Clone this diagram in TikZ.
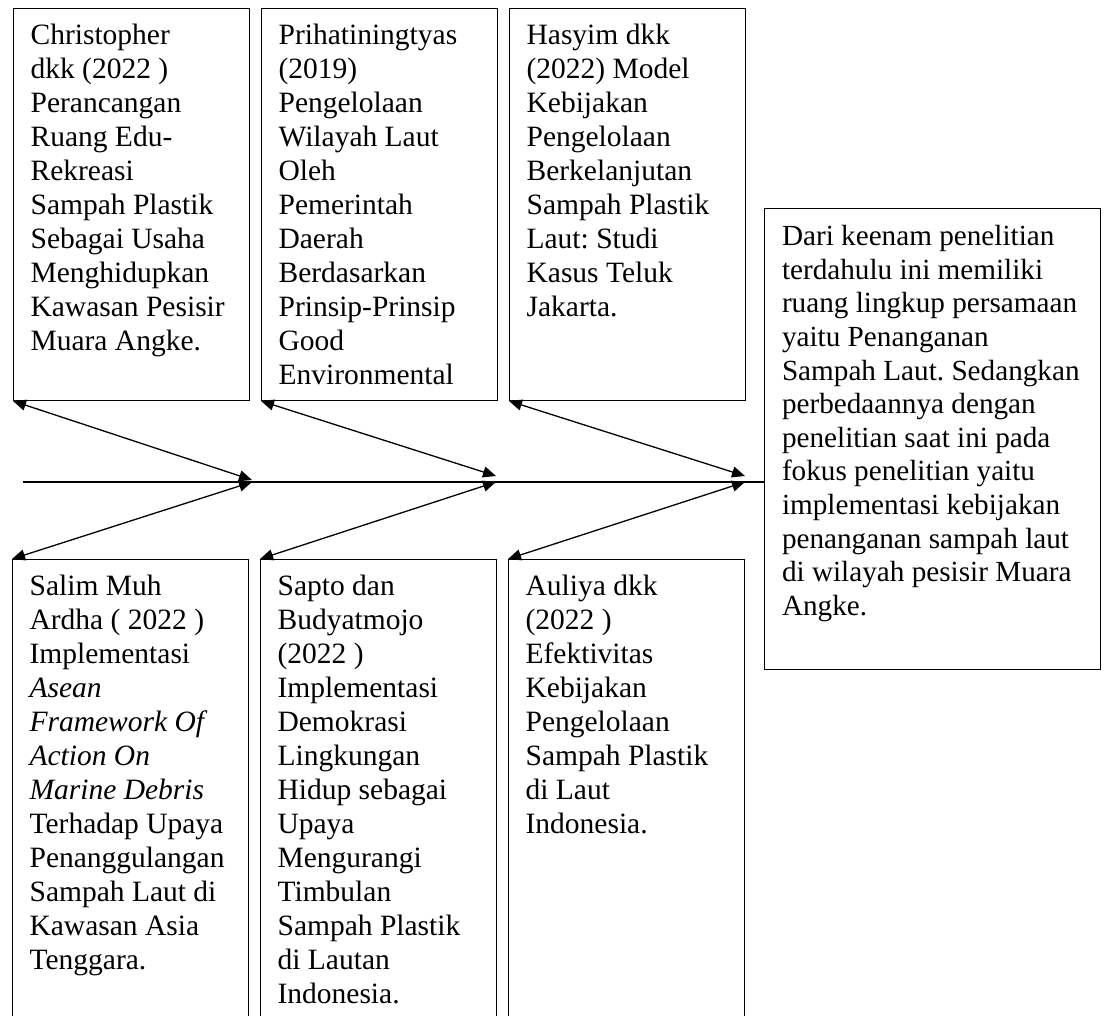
\documentclass[tikz,border=0pt]{standalone}
\usepackage{fontspec}
\setmainfont{Liberation Serif}
\usetikzlibrary{arrows.meta,positioning}
\tikzset{
  % Define standard arrow tip
  >={Triangle[length=13pt,width=11pt]},
  % Define style for the reference boxes
  refbox/.style={
    rectangle,
    draw=black, line width=1pt,
    inner xsep=17.6pt, inner ysep=12.2pt,
    outer sep=0pt,
    font=\fontsize{29.5}{34}\selectfont},
  % Define style for the summary box
  sumbox/.style={
    refbox,
    inner xsep=18pt, inner ysep=13.2pt,
    font=\fontsize{29.2}{33.6}\selectfont},
  % Define arrow style
  link/.style={
    <->,
    line width=1.3pt},
  % line
  spine/.style = {draw, line width=1.3pt},
}
\def\reftext#1#2#3{ % #1 Height, #2 Width, #3 Text
\parbox[t][#1][t]{#2}{\raggedright\frenchspacing\strut #3}}

\begin{document}
\begin{tikzpicture}[x=1pt, y=-1pt]
  \useasboundingbox (0,0) rectangle (1109,1016);
  % top row
  \node[refbox, anchor=north west] (christopher) at (13,9)
    {\reftext{367.6pt}{200.8pt}{Christopher\\ dkk (2022 )\\ Perancangan\\ Ruang Edu-\\ Rekreasi\\ Sampah Plastik\\ Sebagai Usaha\\ Menghidupkan\\ Kawasan Pesisir\\ Muara Angke.}};
  \node[refbox, right=12pt of christopher.north east, anchor=north west] (prihatin)
    {\reftext{367.6pt}{200.8pt}{Prihatiningtyas\\ (2019)\\ Pengelolaan\\ Wilayah Laut\\ Oleh\\ Pemerintah\\ Daerah\\ Berdasarkan\\ Prinsip-Prinsip\\ Good\\ Environmental}};
  \node[refbox, right=12pt of prihatin.north east, anchor=north west] (hasyim)
    {\reftext{367.6pt}{200.8pt}{Hasyim dkk\\ (2022) Model\\ Kebijakan\\ Pengelolaan\\ Berkelanjutan\\ Sampah Plastik\\ Laut: Studi\\ Kasus Teluk\\ Jakarta.}};
  % bottom row
  \node[refbox, anchor=north west] (salim) at (12,559)
    {\reftext{456.6pt}{200.8pt}{Salim Muh\\ Ardha ( 2022 )\\ Implementasi\\ \textit{Asean}\\ \textit{Framework Of}\\ \textit{Action On}\\ \textit{Marine Debris}\\ Terhadap Upaya\\ Penanggulangan\\ Sampah Laut di\\ Kawasan Asia\\ Tenggara.}};
  \node[refbox, right=12pt of salim.north east, anchor=north west] (sapto)
    {\reftext{456.6pt}{200.8pt}{Sapto dan\\ Budyatmojo\\ (2022 )\\ Implementasi\\ Demokrasi\\ Lingkungan\\ Hidup sebagai\\ Upaya\\ Mengurangi\\ Timbulan\\ Sampah Plastik\\ di Lautan\\ Indonesia.}};
  \node[refbox, right=12pt of sapto.north east, anchor=north west] (auliya)
    {\reftext{456.6pt}{200.8pt}{Auliya dkk\\ (2022 )\\ Efektivitas\\ Kebijakan\\ Pengelolaan\\ Sampah Plastik\\ di Laut\\ Indonesia.}};
  % summary
  \node[sumbox, anchor=north west] (summary) at (764,209)
    {\reftext{433.6pt}{300pt}{Dari keenam penelitian\\ terdahulu ini memiliki\\ ruang lingkup persamaan\\ yaitu Penanganan\\ Sampah Laut. Sedangkan\\ perbedaannya dengan\\ penelitian saat ini pada\\ fokus penelitian yaitu\\ implementasi kebijakan\\ penanganan sampah laut\\ di wilayah pesisir Muara\\ Angke.}};
  % spine
  \coordinate (tail) at (23,482);
  \coordinate (j1) at (252,482);
  \coordinate (j2) at (496,482);
  \coordinate (j3) at (745,482);
  \path[spine] (tail) -- (summary.west |- tail);
  % arrows
  \draw[link] (christopher.south west) -- ([yshift=2pt]j1);
  \draw[link] (j1) -- (salim.north west);
  \draw[link] (prihatin.south west) -- ([yshift=6pt]j2);
  \draw[link] (j2) -- (sapto.north west);
  \draw[link] (hasyim.south west) -- ([yshift=6pt]j3);
  \draw[link] (j3) -- (auliya.north west);
\end{tikzpicture}
\end{document}
